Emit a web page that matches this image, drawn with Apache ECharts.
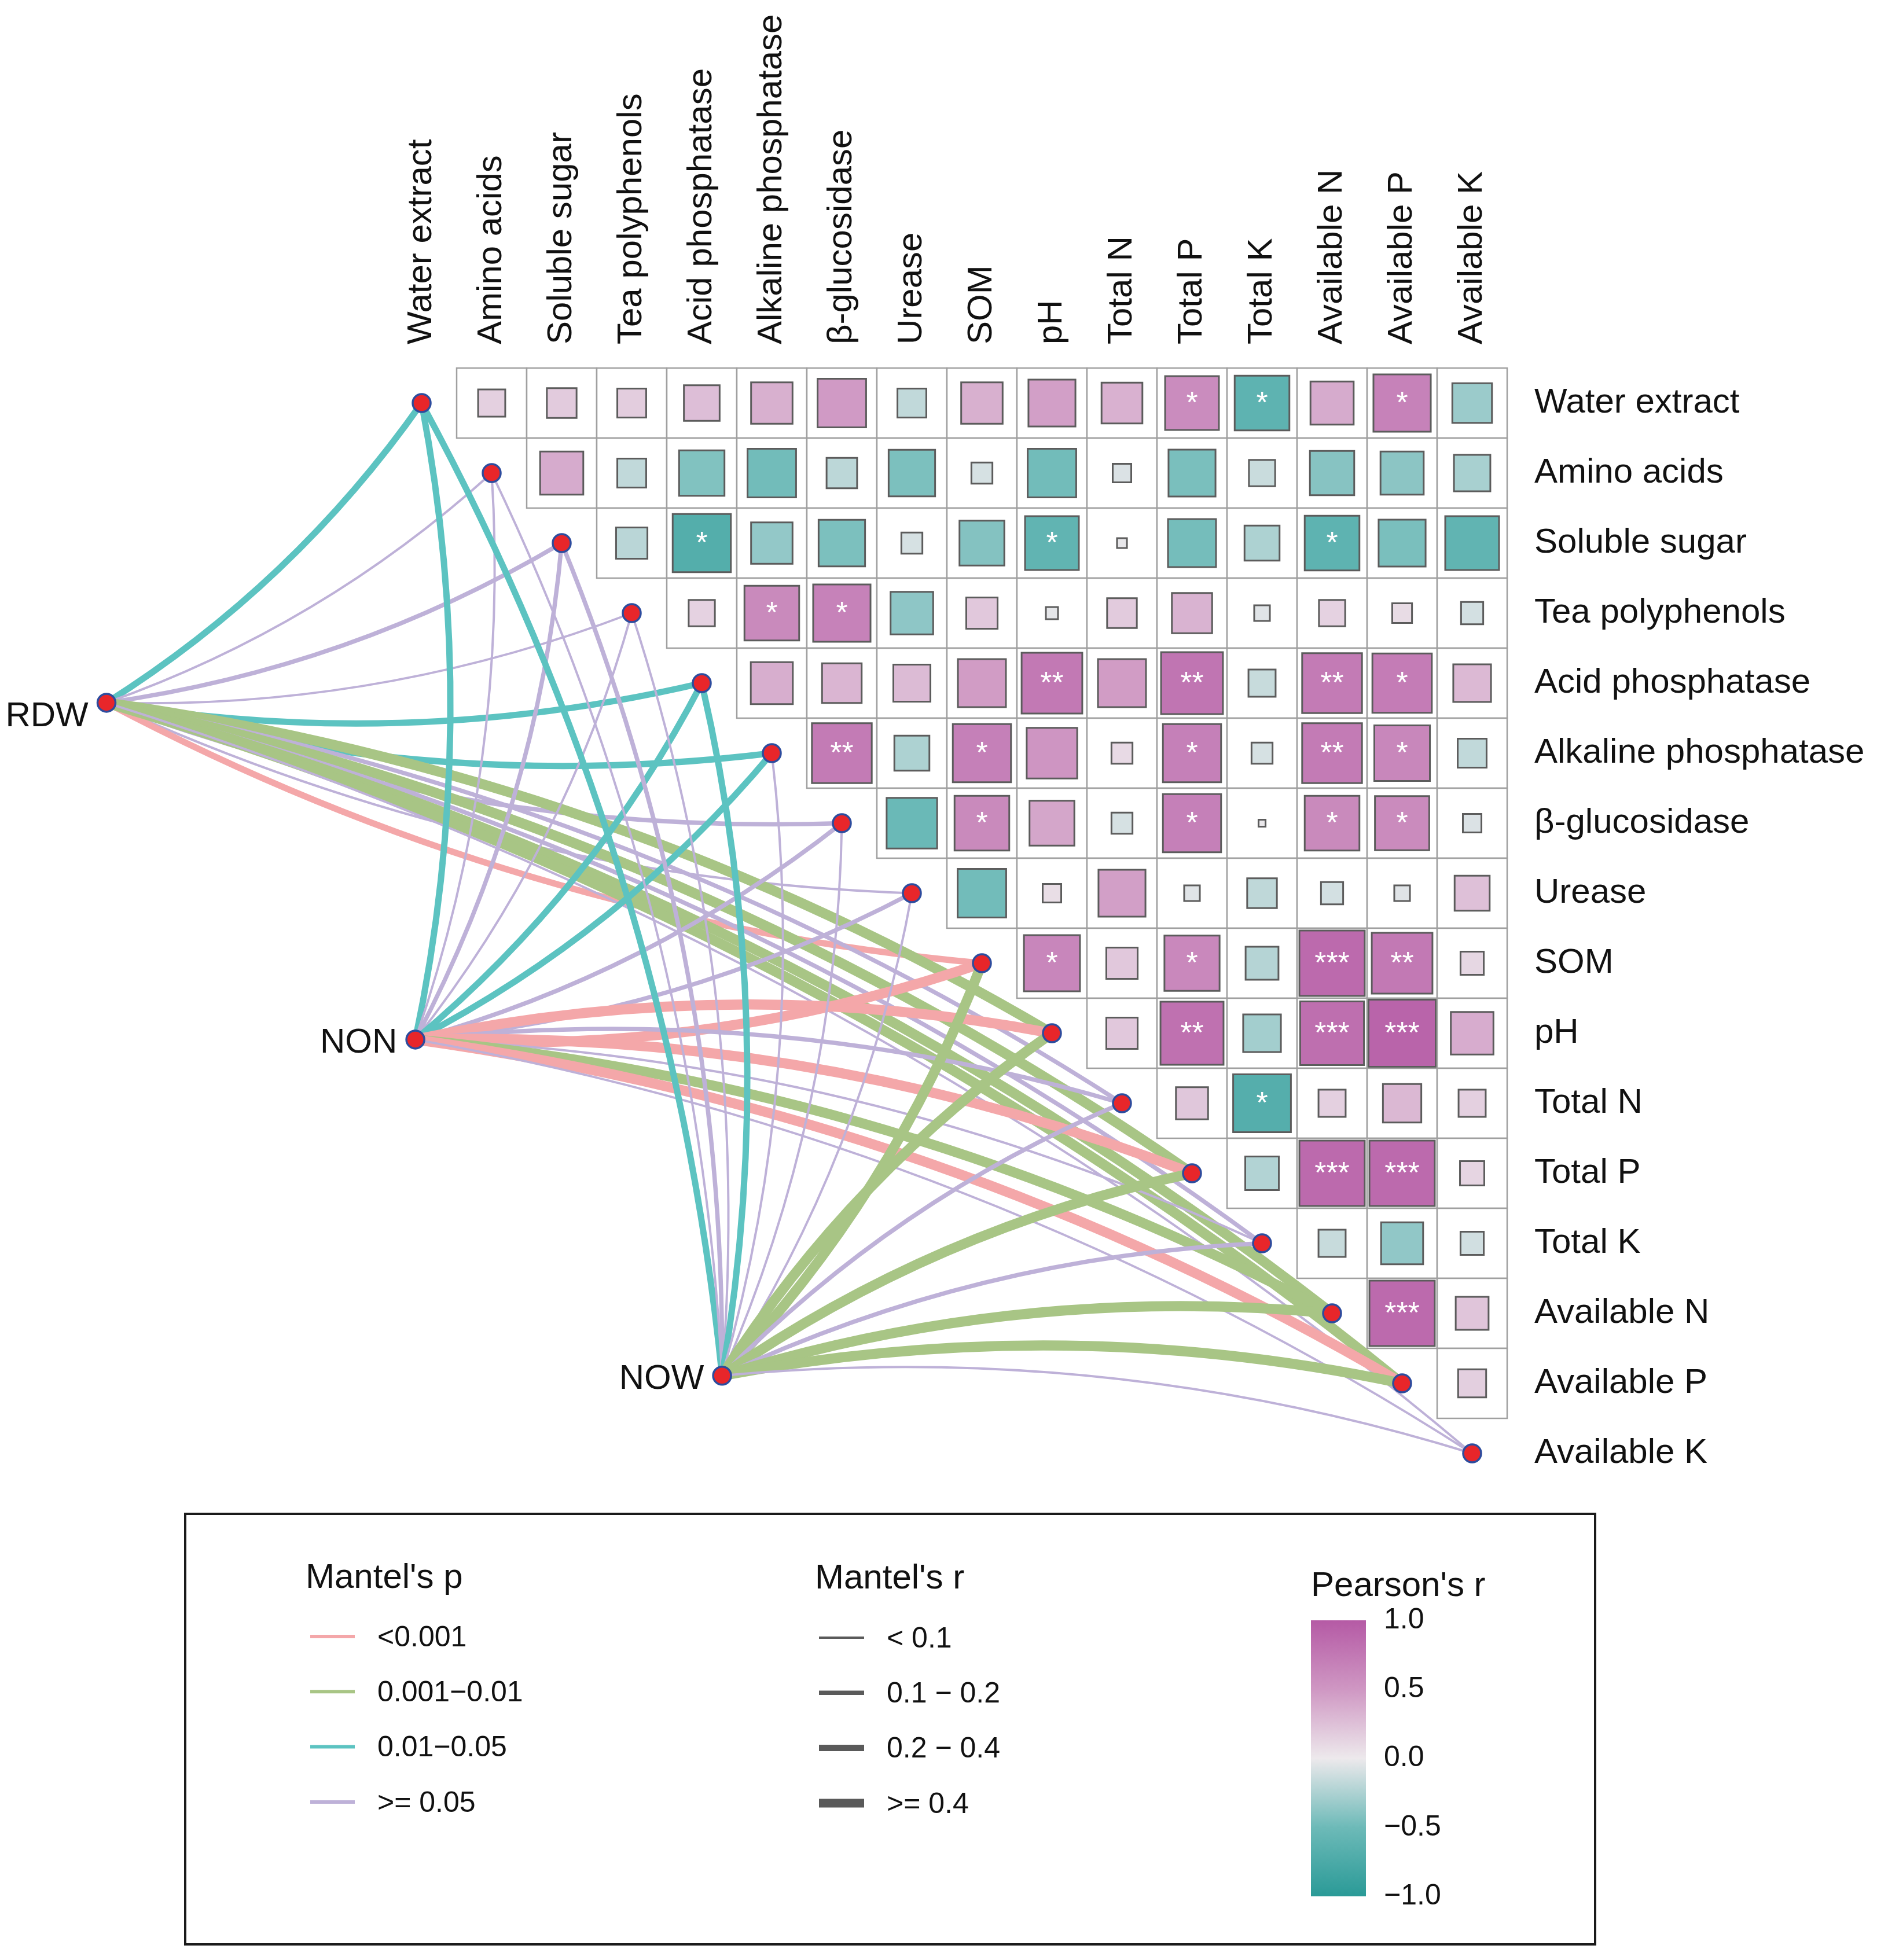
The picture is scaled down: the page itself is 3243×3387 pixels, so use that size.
<!DOCTYPE html>
<html>
<head>
<meta charset="utf-8">
<script src="https://cdn.jsdelivr.net/npm/echarts@6/dist/echarts.min.js"></script>
<style>
html,body{margin:0;padding:0;background:#ffffff;}
#chart{width:3243px;height:3387px;}
</style>
</head>
<body>
<div id="chart"></div>
<script>
// ---------------- DATA ----------------
const variables = ['Water extract','Amino acids','Soluble sugar','Tea polyphenols','Acid phosphatase',
  'Alkaline phosphatase','β-glucosidase','Urease','SOM','pH','Total N','Total P','Total K',
  'Available N','Available P','Available K'];

// Pearson's r (upper triangle): row i holds the values for columns i+1 ... 15
const pearsonR = [
  [0.15, 0.18, 0.17, 0.26, 0.35, 0.48, -0.17, 0.35, 0.45, 0.34, 0.59, -0.61, 0.38, 0.67, -0.32],
  [0.38, -0.17, -0.42, -0.48, -0.19, -0.44, -0.09, -0.48, -0.07, -0.45, -0.14, -0.40, -0.38, -0.27],
  [-0.20, -0.69, -0.35, -0.44, -0.09, -0.41, -0.59, -0.02, -0.47, -0.25, -0.61, -0.45, -0.59],
  [0.14, 0.61, 0.67, -0.37, 0.20, -0.03, 0.18, 0.33, -0.05, 0.14, 0.08, -0.10],
  [0.36, 0.32, 0.28, 0.47, 0.75, 0.47, 0.78, -0.15, 0.73, 0.72, 0.29],
  [0.73, -0.25, 0.69, 0.52, 0.09, 0.69, -0.09, 0.73, 0.63, -0.17],
  [-0.52, 0.61, 0.41, -0.09, 0.69, -0.01, 0.61, 0.60, -0.07],
  [-0.48, 0.07, 0.45, -0.05, -0.18, -0.10, -0.05, 0.25],
  [0.64, 0.20, 0.62, -0.22, 0.87, 0.75, 0.11],
  [0.20, 0.81, -0.29, 0.83, 0.92, 0.37],
  [0.21, -0.68, 0.15, 0.30, 0.15],
  [-0.23, 0.87, 0.87, 0.12],
  [-0.15, -0.36, -0.11],
  [0.87, 0.22],
  [0.16]
];

// significance marks, same layout as pearsonR
const pearsonSig = [
  ['','','','','','','','','','','*','*','','*',''],
  ['','','','','','','','','','','','','',''],
  ['','*','','','','','*','','','','*','',''],
  ['','*','*','','','','','','','','',''],
  ['','','','','**','','**','','**','*',''],
  ['**','','*','','','*','','**','*',''],
  ['','*','','','*','','*','*',''],
  ['','','','','','','',''],
  ['*','','*','','***','**',''],
  ['','**','','***','***',''],
  ['','*','','',''],
  ['','***','***',''],
  ['','',''],
  ['***',''],
  ['']
];

const envNames = ['RDW', 'NON', 'NOW'];
const pLevels = ['<0.001', '0.001\u22120.01', '0.01\u22120.05', '>= 0.05'];
const rLevels = ['< 0.1', '0.1 \u2212 0.2', '0.2 \u2212 0.4', '>= 0.4'];

// Mantel's p class (index into pLevels) for each variable
const mantelP_RDW = [2,3,3,3,2,2,3,3,0,1,3,1,3,1,1,3];
const mantelP_NON = [2,3,3,3,2,2,3,3,0,0,3,0,3,1,0,3];
const mantelP_NOW = [2,3,3,3,2,3,3,3,1,1,3,1,3,1,1,3];
// Mantel's r class (index into rLevels) for each variable
const mantelR_RDW = [2,0,1,0,2,2,1,0,2,3,1,3,1,3,3,0];
const mantelR_NON = [2,0,1,0,2,2,1,1,3,3,1,3,0,3,3,0];
const mantelR_NOW = [2,0,1,0,2,0,0,0,3,3,1,3,1,3,3,0];

const colorbarTicks = [-1, -0.5, 0, 0.5, 1];

// ---------------- STYLE / LAYOUT ----------------
const FONT = "'Liberation Sans', Arial, Helvetica, sans-serif";
const pColors = ['#F4A7A9', '#A8C585', '#5CC3C1', '#BEB1D8'];
const rWidths = [4, 7.5, 11, 17.5];
const pearsonColors = ['#2A9A97', '#6DBAB8', '#EDE9EC', '#CF97C3', '#B55AA5'];
const CELL = 121, OX = 728.5, OY = 696.5;
const xMin = -5.5, xMax = 15.5, yMin = -0.5, yMax = 15.5;
const envAnchor = { RDW: [-4.5, 4.28], NON: [-0.09, 9.09], NOW: [4.29, 13.89] };
const envLabelOffset = { RDW: 24, NON: 6, NOW: 6 };

// ---------------- BUILD ----------------
const heatData = [], heatSig = [];
pearsonR.forEach((row, i) => {
  row.forEach((r, idx) => {
    const j = i + 1 + idx;
    heatData.push([j, i, r]);
    heatSig.push(pearsonSig[i][idx]);
  });
});

const mantelP = [mantelP_RDW, mantelP_NON, mantelP_NOW];
const mantelR = [mantelR_RDW, mantelR_NON, mantelR_NOW];
const linkData = [];
envNames.forEach((e, ei) => {
  variables.forEach((v, k) => {
    linkData.push({
      coords: [envAnchor[e], [k, k]],
      lineStyle: {
        color: pColors[mantelP[ei][k]],
        width: rWidths[mantelR[ei][k]],
        curveness: k <= 8 ? -0.1 : 0.1,
        opacity: 1
      }
    });
  });
});

const idx = variables.map((v, i) => i);

const chart = echarts.init(document.getElementById('chart'), null, { renderer: 'canvas' });

// legend graphics
const leg = [];
leg.push({ type: 'rect', shape: { x: 320, y: 2616, width: 2436, height: 744 },
  style: { fill: 'none', stroke: '#1a1a1a', lineWidth: 4 } });
leg.push({ type: 'text', x: 528, y: 2727, style: { text: "Mantel's p", font: '60px ' + FONT, fill: '#111', verticalAlign: 'middle' } });
leg.push({ type: 'text', x: 1408, y: 2728, style: { text: "Mantel's r", font: '60px ' + FONT, fill: '#111', verticalAlign: 'middle' } });
leg.push({ type: 'text', x: 2265, y: 2741, style: { text: "Pearson's r", font: '60px ' + FONT, fill: '#111', verticalAlign: 'middle' } });
pLevels.forEach((t, i) => {
  const y = 2831 + i * 95.3;
  leg.push({ type: 'line', shape: { x1: 536, y1: y - 3, x2: 613, y2: y - 3 }, style: { stroke: pColors[i], lineWidth: 6 } });
  leg.push({ type: 'text', x: 652, y: y, style: { text: t, font: '50px ' + FONT, fill: '#111', verticalAlign: 'middle' } });
});
rLevels.forEach((t, i) => {
  const y = 2833 + i * 95.3;
  leg.push({ type: 'line', shape: { x1: 1415, y1: y - 3, x2: 1493, y2: y - 3 }, style: { stroke: '#5a5a5a', lineWidth: Math.min(rWidths[i], 15) } });
  leg.push({ type: 'text', x: 1532, y: y, style: { text: t, font: '50px ' + FONT, fill: '#111', verticalAlign: 'middle' } });
});

const option = {
  animation: false,
  backgroundColor: '#ffffff',
  textStyle: { fontFamily: FONT },
  grid: [
    { left: OX + xMin * CELL, top: OY + yMin * CELL, width: (xMax - xMin) * CELL, height: (yMax - yMin) * CELL,
      containLabel: false, outerBoundsMode: 'none' },
    { left: 2265, top: 2800, width: 95, height: 477, containLabel: false, outerBoundsMode: 'none' }
  ],
  xAxis: [
    { type: 'value', gridIndex: 0, min: xMin, max: xMax, position: 'top',
      axisLine: { show: false }, axisTick: { show: false }, splitLine: { show: false },
      axisLabel: { customValues: idx, formatter: v => variables[Math.round(v)] || '',
        rotate: 90, margin: 41, fontSize: 60, color: '#111', fontFamily: FONT } },
    { type: 'category', gridIndex: 1, data: ['bar'], show: false }
  ],
  yAxis: [
    { type: 'value', gridIndex: 0, min: yMin, max: yMax, inverse: true, position: 'right',
      axisLine: { show: false }, axisTick: { show: false }, splitLine: { show: false },
      axisLabel: { customValues: idx, formatter: v => variables[Math.round(v)] || '',
        margin: 47, fontSize: 60, color: '#111', fontFamily: FONT } },
    { type: 'value', gridIndex: 1, min: -1, max: 1, interval: 0.5, position: 'right',
      axisLine: { show: false }, splitLine: { show: false },
      axisTick: { show: true, inside: true, length: 10, lineStyle: { color: '#ffffff', width: 3 } },
      axisLabel: { margin: 31, fontSize: 50, color: '#111', fontFamily: FONT,
        formatter: v => (v < 0 ? '\u2212' : '') + Math.abs(v).toFixed(1) } }
  ],
  visualMap: [{
    type: 'continuous', show: false, min: -1, max: 1, dimension: 2, seriesIndex: 0,
    inRange: { color: pearsonColors }
  }],
  graphic: leg,
  series: [
    {
      type: 'custom', xAxisIndex: 0, yAxisIndex: 0, data: heatData, z: 1, silent: true,
      encode: { x: 0, y: 1 },
      renderItem: function (params, api) {
        const c = api.coord([api.value(0), api.value(1)]);
        const s = api.size([1, 1]);
        const w = Math.abs(s[0]), h = Math.abs(s[1]);
        const r = api.value(2);
        const side = Math.sqrt(Math.abs(r)) * w;
        const children = [
          { type: 'rect', shape: { x: c[0] - w / 2, y: c[1] - h / 2, width: w, height: h },
            style: { fill: '#ffffff', stroke: '#a0a0a0', lineWidth: 2.5 } },
          { type: 'rect', shape: { x: c[0] - side / 2, y: c[1] - side / 2, width: side, height: side },
            style: { fill: api.visual('color'), stroke: '#5c5c5c', lineWidth: 3 } }
        ];
        const sig = heatSig[params.dataIndex];
        if (sig) {
          children.push({ type: 'text', x: c[0], y: c[1] + 2,
            style: { text: sig, fill: '#ffffff', font: '52px ' + FONT, align: 'center', verticalAlign: 'middle' } });
        }
        return { type: 'group', children: children };
      }
    },
    {
      type: 'lines', coordinateSystem: 'cartesian2d', xAxisIndex: 0, yAxisIndex: 0,
      data: linkData, z: 3, silent: true, polyline: false,
      lineStyle: { opacity: 1 }
    },
    {
      type: 'scatter', xAxisIndex: 0, yAxisIndex: 0, z: 5, silent: true,
      data: variables.map((v, k) => [k, k]),
      symbol: 'circle', symbolSize: 31,
      itemStyle: { color: '#E8262A', borderColor: '#2D4C9E', borderWidth: 3.5, opacity: 1 }
    },
    {
      type: 'scatter', xAxisIndex: 0, yAxisIndex: 0, z: 5, silent: true,
      data: envNames.map(e => ({ name: e, value: envAnchor[e],
        label: { offset: [0, envLabelOffset[e]] } })),
      symbol: 'circle', symbolSize: 31,
      itemStyle: { color: '#E8262A', borderColor: '#2D4C9E', borderWidth: 3.5, opacity: 1 },
      label: { show: true, position: 'left', distance: 14, formatter: '{b}',
        fontSize: 60, color: '#111', fontFamily: FONT }
    },
    {
      type: 'custom', xAxisIndex: 1, yAxisIndex: 1, z: 2, silent: true,
      data: [[0, colorbarTicks[0], colorbarTicks[colorbarTicks.length - 1]]],
      encode: { x: 0, y: [1, 2] },
      renderItem: function (params, api) {
        const top = api.coord([api.value(0), api.value(2)]);
        const bot = api.coord([api.value(0), api.value(1)]);
        const w = Math.abs(api.size([1, 0])[0]);
        const stops = pearsonColors.slice().reverse().map((col, i, a) => ({ offset: i / (a.length - 1), color: col }));
        return { type: 'rect', shape: { x: top[0] - w / 2, y: top[1], width: w, height: bot[1] - top[1] },
          style: { fill: new echarts.graphic.LinearGradient(0, 0, 0, 1, stops) } };
      }
    }
  ]
};
chart.setOption(option);
</script>
</body>
</html>
